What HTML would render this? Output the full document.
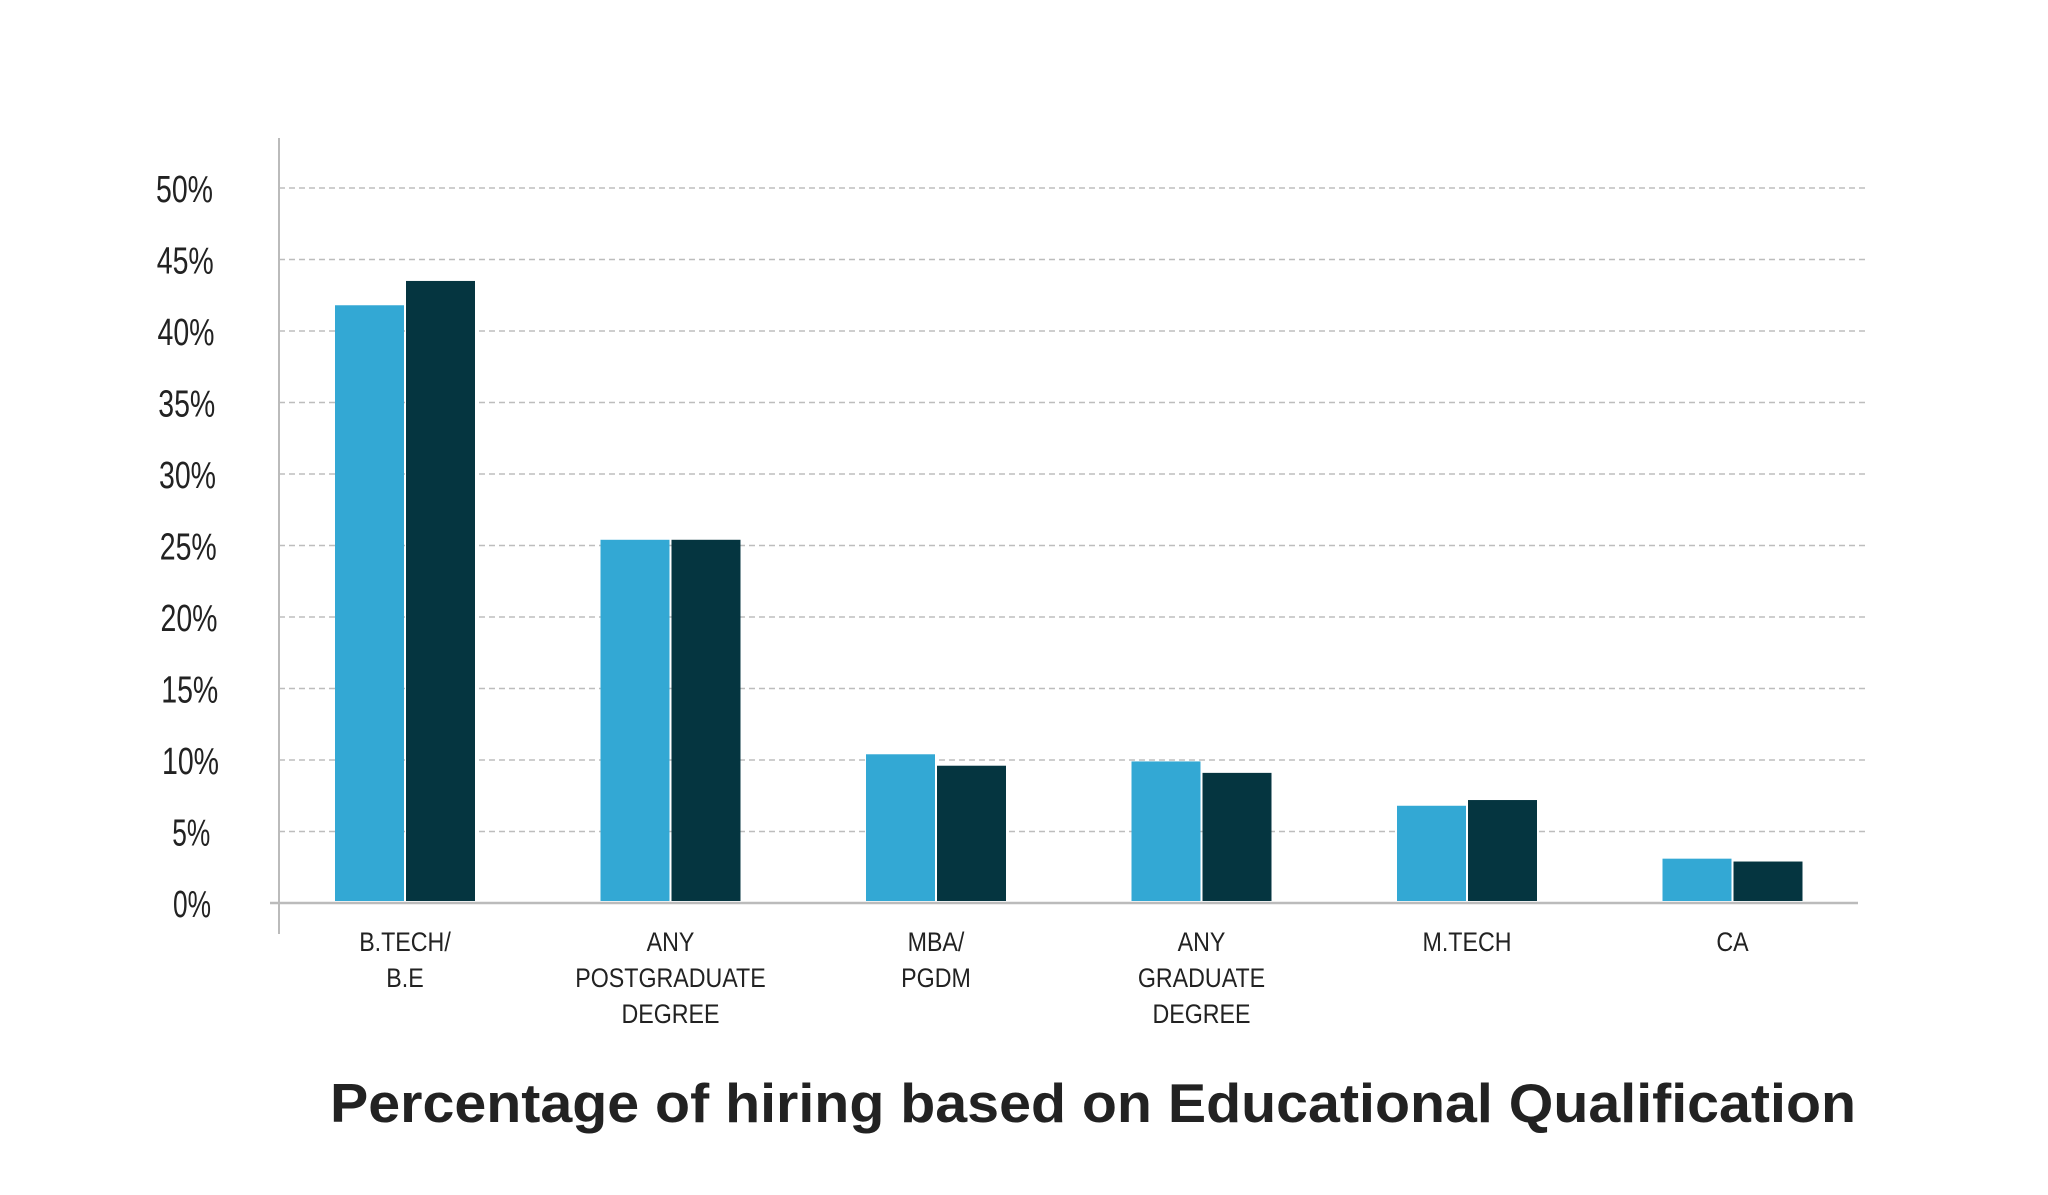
<!DOCTYPE html>
<html><head><meta charset="utf-8"><style>
html,body{margin:0;padding:0;background:#fff;}
svg{display:block;}
text{font-family:"Liberation Sans Narrow","Liberation Sans",sans-serif;fill:#222;}
</style></head><body>
<svg id="chart" width="2048" height="1195" viewBox="0 0 2048 1195" xmlns="http://www.w3.org/2000/svg">
<g id="grid"></g>
<g id="yticks"></g>
<line x1="279" y1="138" x2="279" y2="934" stroke="#bbb" stroke-width="2"/>
<line x1="270" y1="903" x2="1858" y2="903" stroke="#bbb" stroke-width="2.5"/>
<g id="bars"></g>
<g id="xlabels"></g>
<text x="1093" y="1122" text-anchor="middle" style="font-family:'Liberation Sans',sans-serif;font-weight:bold;font-size:55px;fill:#222" textLength="1526" lengthAdjust="spacingAndGlyphs">Percentage of hiring based on Educational Qualification</text>
</svg>
<script>
const categories = [["B.TECH/","B.E"],["ANY","POSTGRADUATE","DEGREE"],["MBA/","PGDM"],["ANY","GRADUATE","DEGREE"],["M.TECH"],["CA"]];
const seriesA = [41.8, 25.4, 10.4, 9.9, 6.8, 3.1];
const seriesB = [43.5, 25.4, 9.6, 9.1, 7.2, 2.9];
const yTicks = [0,5,10,15,20,25,30,35,40,45,50];
const yTickLabels = ["0%","5%","10%","15%","20%","25%","30%","35%","40%","45%","50%"];

const NS = "http://www.w3.org/2000/svg";
const y0 = 903, pxPer = 14.3;
function yScale(v){ return y0 - v * pxPer; }
function xCenter(i){ return 405 + i * 265.5; }
const barW = 69;

const grid = document.getElementById('grid');
const yt = document.getElementById('yticks');
yTicks.forEach((t,i)=>{
  if(t>0){
    const l = document.createElementNS(NS,'line');
    
    
    l.setAttribute('x1',279); l.setAttribute('x2',1868);
    l.setAttribute('y1',yScale(t)); l.setAttribute('y2',yScale(t));
    l.setAttribute('stroke','#bdbdbd'); l.setAttribute('stroke-width','1.5');
    l.setAttribute('stroke-dasharray','6 4');
    grid.appendChild(l);
  }
  const tx = document.createElementNS(NS,'text');
  
  
  tx.setAttribute('x', 192 + t*-0.15);
  tx.setAttribute('y', yScale(t)+14);
  tx.setAttribute('text-anchor','middle');
  tx.setAttribute('font-size','38');
  tx.setAttribute('textLength', yTickLabels[i].length*19);
  tx.setAttribute('lengthAdjust','spacingAndGlyphs');
  tx.textContent = yTickLabels[i];
  yt.appendChild(tx);
});

const bars = document.getElementById('bars');
const xl = document.getElementById('xlabels');
categories.forEach((c,i)=>{
  const cx = xCenter(i);
  [[seriesA,'#33a8d4',cx-barW-1,'a'],[seriesB,'#053540',cx+1,'b']].forEach(([s,col,x,k])=>{
    const r = document.createElementNS(NS,'rect');
    
    
    r.setAttribute('x',x); r.setAttribute('width',barW);
    r.setAttribute('y',yScale(s[i])); r.setAttribute('height',yScale(0)-yScale(s[i])-2);
    r.setAttribute('fill',col);
    bars.appendChild(r);
  });
  c.forEach((line,j)=>{
    const tx = document.createElementNS(NS,'text');
    
    
    tx.setAttribute('x',cx);
    tx.setAttribute('y',951 + j*36);
    tx.setAttribute('text-anchor','middle');
    tx.setAttribute('font-size','27');
    tx.setAttribute('transform','translate('+cx+',0) scale(0.86,1) translate('+(-cx)+',0)');
    tx.textContent = line;
    xl.appendChild(tx);
  });
});
</script>
</body></html>
